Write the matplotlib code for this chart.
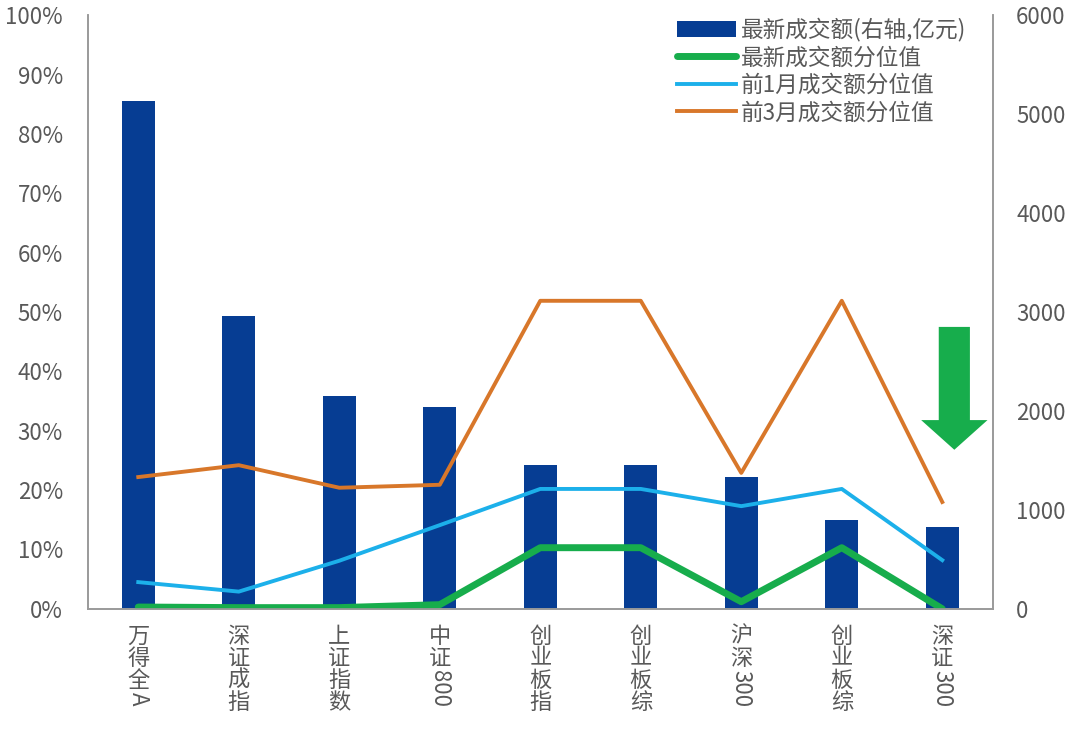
import numpy as np
import matplotlib
matplotlib.use('Agg')
import matplotlib.pyplot as plt
from matplotlib.patches import FancyArrow

plt.rcParams['font.family'] = ['Noto Sans CJK SC', 'DejaVu Sans']

# data
categories = ['万得全A', '深证成指', '上证指数', '中证800', '创业板指',
              '创业板综', '沪深300', '创业板综', '深证300']
turnover = [5130, 2960, 2150, 2040, 1455, 1455, 1335, 900, 830]  # 亿元, right axis
pct_latest = [0.3, 0.2, 0.2, 0.7, 10.3, 10.3, 1.2, 10.3, 0.0]
pct_1m = [4.5, 2.9, 8.1, 14.1, 20.2, 20.2, 17.3, 20.2, 8.2]
pct_3m = [22.2, 24.2, 20.4, 20.9, 51.9, 51.9, 22.9, 51.9, 18.0]

c_bar = '#063d93'
c_green = '#17ad4c'
c_blue = '#1cb0ea'
c_orange = '#d8772a'
c_text = '#595959'
c_spine = '#9a9a9a'

fig = plt.figure(figsize=(10.8, 7.3), dpi=100)
ax = fig.add_axes([0.0815, 0.166, 0.8375, 0.813])
ax2 = ax.twinx()
ax.set_zorder(ax2.get_zorder() + 1)
ax.patch.set_visible(False)

x = np.arange(len(categories))
bars = ax2.bar(x, turnover, width=0.33, color=c_bar, label='最新成交额(右轴,亿元)')
l1, = ax.plot(x, pct_latest, color=c_green, lw=5, label='最新成交额分位值',
              solid_capstyle='round')
l2, = ax.plot(x, pct_1m, color=c_blue, lw=2.8, label='前1月成交额分位值')
l3, = ax.plot(x, pct_3m, color=c_orange, lw=2.8, label='前3月成交额分位值')

ax.set_xlim(-0.5, len(categories) - 0.5)
ax.set_ylim(0, 100)
ax2.set_ylim(0, 6000)
ax.set_yticks(np.arange(0, 101, 10))
ax.set_yticklabels([f'{v}%' for v in range(0, 101, 10)])
ax2.set_yticks(np.arange(0, 6001, 1000))

for a in (ax, ax2):
    a.tick_params(axis='both', length=0, labelsize=16, labelcolor=c_text)
    a.spines['top'].set_visible(False)
    for s in ('left', 'right', 'bottom'):
        a.spines[s].set_color(c_spine)
        a.spines[s].set_linewidth(1.2)
ax.tick_params(axis='y', pad=18)
ax2.tick_params(axis='y', pad=17)
ax.set_xticks(x)
ax.set_xticklabels([])

# vertical category labels: CJK upright, latin runs rotated
fs = 16
for i, lab in enumerate(categories):
    runs = []
    for ch in lab:
        if ord(ch) > 0x2e80:
            runs.append(ch)
        elif runs and ord(runs[-1][-1]) <= 0x2e80:
            runs[-1] += ch
        else:
            runs.append(ch)
    cur = 11.5
    for r in runs:
        if ord(r[0]) > 0x2e80:
            ax.annotate(r, xy=(i, 0), xycoords=('data', 'axes fraction'),
                        xytext=(0, -cur), textcoords='offset points',
                        ha='center', va='top', fontsize=fs, color=c_text)
            cur += fs * 0.99
        else:
            ax.annotate(r, xy=(i, 0), xycoords=('data', 'axes fraction'),
                        xytext=(0, -cur - 1), textcoords='offset points',
                        ha='center', va='top', rotation=-90, fontsize=fs,
                        color=c_text)
            cur += fs * 0.63 * len(r)

# green down arrow
ax.add_patch(FancyArrow(8.12, 47.5, 0, -20.7, width=0.31, head_width=0.66,
                        head_length=5.0, length_includes_head=True,
                        color=c_green, lw=0))

ax.legend([bars, l1, l2, l3], [h.get_label() for h in (bars, l1, l2, l3)],
          loc='upper right', bbox_to_anchor=(0.993, 1.03), frameon=False,
          fontsize=16.3, handlelength=2.6, handletextpad=0.2,
          labelspacing=0.2, labelcolor=c_text)

fig.savefig('out.png', dpi=100)
